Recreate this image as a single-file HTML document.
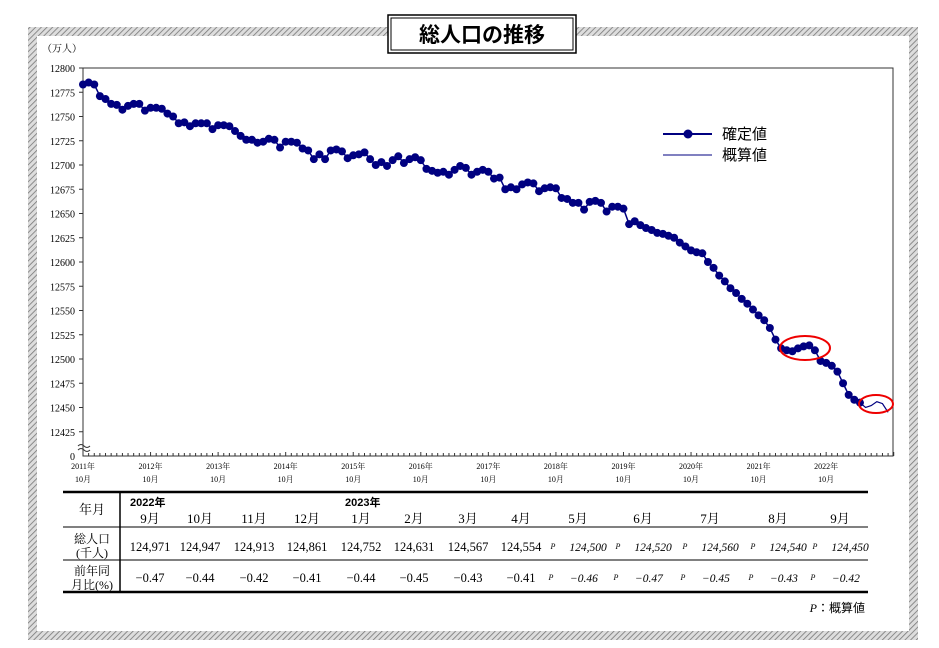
<!DOCTYPE html>
<html><head><meta charset="utf-8"><style>
html,body{margin:0;padding:0;background:#fff;}
svg{display:block;font-family:"Liberation Serif","Noto Serif CJK SC","Noto Sans CJK JP",serif;}
</style></head><body>
<svg id="c" width="939" height="648" viewBox="0 0 939 648" xmlns="http://www.w3.org/2000/svg">
<defs>
<pattern id="hatch" width="4" height="4" patternUnits="userSpaceOnUse" patternTransform="rotate(45)">
<rect width="4" height="4" fill="#ddd"/><line x1="0" y1="0" x2="0" y2="4" stroke="#777" stroke-width="1.6"/>
</pattern>
</defs>
<g>
<rect x="28" y="27" width="890" height="9" fill="url(#hatch)"/>
<rect x="28" y="631" width="890" height="9" fill="url(#hatch)"/>
<rect x="28" y="27" width="9" height="613" fill="url(#hatch)"/>
<rect x="909" y="27" width="9" height="613" fill="url(#hatch)"/>
</g>
<g>
<rect x="388" y="15" width="188" height="38" fill="#fff" stroke="#000" stroke-width="1.5"/>
<rect x="391" y="18" width="182" height="32" fill="none" stroke="#000" stroke-width="1"/>
<text x="482" y="42" text-anchor="middle" font-size="21" font-weight="bold" font-family="'Noto Sans CJK JP',sans-serif">総人口の推移</text>
</g>
<text x="42" y="52" font-size="10">（万人）</text>
<rect x="83" y="68" width="810" height="388" fill="#fff" stroke="#333" stroke-width="1"/>
<g id="yaxis"></g>
<g id="xaxis"></g>
<g id="series"></g>
<g>
<g>
<line x1="663" y1="134" x2="712" y2="134" stroke="#000080" stroke-width="2"/><circle cx="688" cy="134" r="4.5" fill="#000080"/>
<text x="722" y="139" font-size="15" font-family="'Noto Sans CJK JP',sans-serif">確定値</text></g>
<g>
<line x1="663" y1="155" x2="712" y2="155" stroke="#000080" stroke-width="1"/>
<text x="722" y="160" font-size="15" font-family="'Noto Sans CJK JP',sans-serif">概算値</text></g>
</g>
<ellipse cx="805" cy="348" rx="25" ry="12" fill="none" stroke="#e00" stroke-width="2"/>
<ellipse cx="876" cy="404" rx="17" ry="9" fill="none" stroke="#e00" stroke-width="2"/>
<g id="table"></g>
<text x="865" y="612" text-anchor="end" font-size="12" font-family="'Noto Sans CJK JP',sans-serif"><tspan font-style="italic" font-family="'Liberation Serif',serif">P</tspan>：概算値</text>
</svg>
<script>
const confirmed = [12783,12785,12783,12771,12768,12763,12762,12757,12761,12763,12763,12756,12759,12759,12758,12753,12750,12743,12744,12740,12743,12743,12743,12737,12741,12741,12740,12735,12730,12726,12726,12723,12724,12727,12726,12718,12724,12724,12723,12717,12715,12706,12711,12706,
12715,12716,12714,12707,12710,12711,12713,12706,12700,12703,12699,12705,12709,12702,12706,12708,12705,12696,12694,12692,12693,12690,12695,12699,12697,12690,12693,12695,12693,12686,12687,12675,12677,12675,12680,12682,12681,12673,12676,12677,12676,12666,12665,12661,12661,12654,12662,12663,12661,12652,12657,12657,12655,12639,12642,
12638,12635,12633,12630,12629,12627,12625,12620,12616,12612,12610,12609,12600,12594,12586,12580,12573,12568,12562,12557,12551,12545,12540,12532,12520,12511,12509,12508,12511,12513,12514,12509,12498,12496,12493,12487,12475,12463,12458,12455];
const estimate = [12455,12450,12452,12456,12454,12445];
const yTicks = [12425,12450,12475,12500,12525,12550,12575,12600,12625,12650,12675,12700,12725,12750,12775,12800];
const xYears = ["2011年","2012年","2013年","2014年","2015年","2016年","2017年","2018年","2019年","2020年","2021年","2022年"];
const tblMonths = ["9月","10月","11月","12月","1月","2月","3月","4月","5月","6月","7月","8月","9月"];
const tblPop = ["124,971","124,947","124,913","124,861","124,752","124,631","124,567","124,554","124,500","124,520","124,560","124,540","124,450"];
const tblRate = ["−0.47","−0.44","−0.42","−0.41","−0.44","−0.45","−0.43","−0.41","−0.46","−0.47","−0.45","−0.43","−0.42"];
const NS="http://www.w3.org/2000/svg";
const X0=83, DX=5.63, Y0=456, YMIN=12400, YMAX=12800, YTOP=68;
function xs(i){return X0+i*DX;}
function ys(v){return Y0-(v-YMIN)*(Y0-YTOP)/(YMAX-YMIN);}
function mk(tag,attrs,parent){const e=document.createElementNS(NS,tag);for(const k in attrs)e.setAttribute(k,attrs[k]);parent.appendChild(e);return e;}
const ya=document.getElementById('yaxis');
yTicks.forEach(v=>{
  mk('line',{x1:79,x2:83,y1:ys(v),y2:ys(v),stroke:'#333'},ya);
  const t=mk('text',{x:75,y:ys(v)+4,'text-anchor':'end','font-size':10},ya);
  
  
  t.textContent=v;
});
const z=mk('text',{x:75,y:460,'text-anchor':'end','font-size':10},ya);z.textContent='0';


mk('path',{d:'M78 446 q3 -3 6 0 t6 0 M78 450 q3 -3 6 0 t6 0',fill:'none',stroke:'#333'},ya);
const xa=document.getElementById('xaxis');
for(let i=0;i<=144;i++){mk('line',{x1:xs(i),x2:xs(i),y1:456,y2:i%12==0?452:453,stroke:'#333'},xa);}
xYears.forEach((y,k)=>{
  const t=mk('text',{x:xs(k*12),y:469,'text-anchor':'middle','font-size':8},xa);t.textContent=y;
  
  
  const t2=mk('text',{x:xs(k*12),y:482,'text-anchor':'middle','font-size':8},xa);t2.textContent='10月';
});
const s=document.getElementById('series');
const off=confirmed.length-1;
const ep=mk('polyline',{points:estimate.map((v,i)=>xs(off+i)+','+ys(v)).join(' '),fill:'none',stroke:'#000080','stroke-width':1.2},s);


const cl=mk('polyline',{points:confirmed.map((v,i)=>xs(i)+','+ys(v)).join(' '),fill:'none',stroke:'#000080','stroke-width':1.5},s);


confirmed.forEach((v,i)=>{
  const c=mk('circle',{cx:xs(i),cy:ys(v),r:4,fill:'#000080'},s);
  
  
});
const tb=document.getElementById('table');
mk('line',{x1:63,x2:868,y1:492,y2:492,stroke:'#000','stroke-width':2.5},tb);
mk('line',{x1:120,x2:868,y1:527,y2:527,stroke:'#000','stroke-width':1},tb);
mk('line',{x1:63,x2:120,y1:527,y2:527,stroke:'#000','stroke-width':1},tb);
mk('line',{x1:63,x2:868,y1:560,y2:560,stroke:'#000','stroke-width':1},tb);
mk('line',{x1:63,x2:868,y1:592,y2:592,stroke:'#000','stroke-width':2.5},tb);
mk('line',{x1:120,x2:120,y1:492,y2:592,stroke:'#000','stroke-width':1.5},tb);
function tx(x,y,str,size,anchor,extra){const t=mk('text',Object.assign({x:x,y:y,'font-size':size,'text-anchor':anchor||'middle'},extra||{}),tb);t.textContent=str;return t;}
tx(92,514,'年月',13);
tx(92,543,'総人口',12);tx(92,557,'(千人)',12);
tx(92,575,'前年同',12);tx(92,589,'月比(%)',12);
tx(130,506,'2022年',11,'start',{'font-weight':'bold','font-family':"'Liberation Sans','Noto Sans CJK JP',sans-serif"});
tx(345,506,'2023年',11,'start',{'font-weight':'bold','font-family':"'Liberation Sans','Noto Sans CJK JP',sans-serif"});
const cx=[150,200,254,307,361,414,468,521,578,643,710,778,840];
tblMonths.forEach((m,i)=>{
  const t=tx(cx[i],523,m,13);
  
  
  const est=i>=8;
  const p=tx(cx[i]+(est?10:0),551,tblPop[i],est?11.5:12.5,'middle',est?{'font-style':'italic'}:{});
  
  
  const r=tx(cx[i]+(est?6:0),582,tblRate[i],est?11.5:12.5,'middle',est?{'font-style':'italic'}:{});
  
  
  if(est){tx(cx[i]-25,549,'P',8,'middle',{'font-style':'italic'});tx(cx[i]-27,580,'P',8,'middle',{'font-style':'italic'});}
});
</script>
</body></html>
